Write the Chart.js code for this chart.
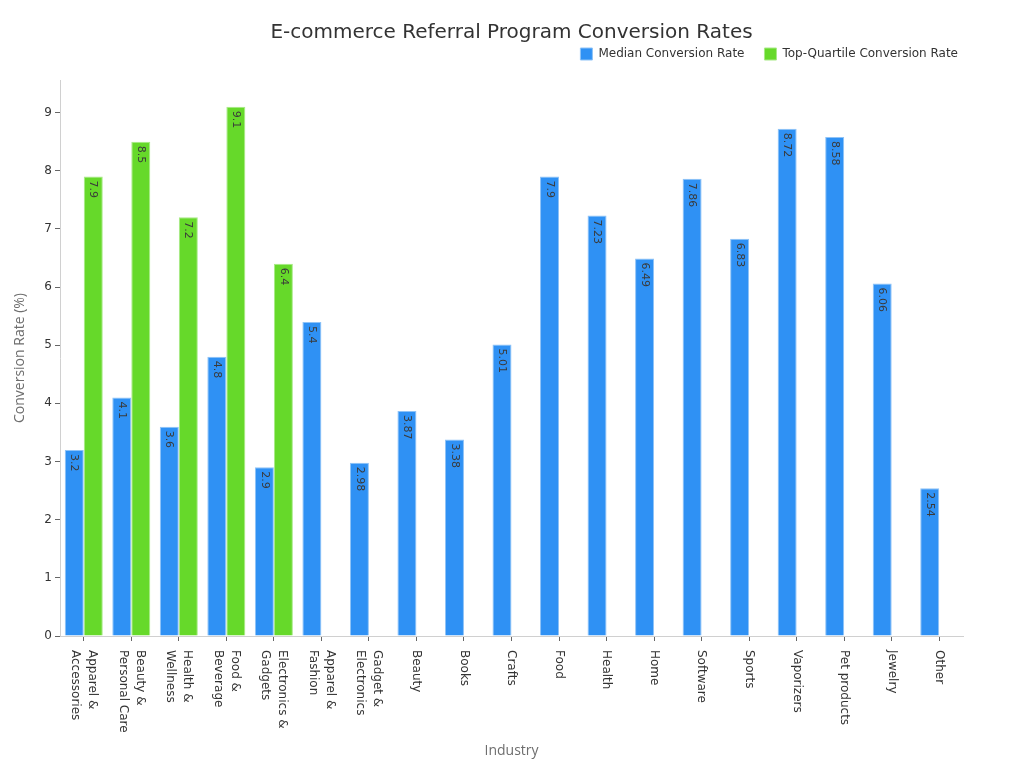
<!DOCTYPE html>
<html>
<head>
<meta charset="utf-8">
<script src="https://cdn.jsdelivr.net/npm/chart.js@4/dist/chart.umd.min.js"></script>
<style>
  html, body { margin: 0; padding: 0; background: #ffffff; }
  #wrap { width: 1024px; height: 768px; }
</style>
</head>
<body>
<div id="wrap"><canvas id="c" width="1024" height="768"></canvas></div>
<script>
const categories = [
  ["Apparel &", "Accessories"],
  ["Beauty &", "Personal Care"],
  ["Health &", "Wellness"],
  ["Food &", "Beverage"],
  ["Electronics &", "Gadgets"],
  ["Apparel &", "Fashion"],
  ["Gadget &", "Electronics"],
  ["Beauty"],
  ["Books"],
  ["Crafts"],
  ["Food"],
  ["Health"],
  ["Home"],
  ["Software"],
  ["Sports"],
  ["Vaporizers"],
  ["Pet products"],
  ["Jewelry"],
  ["Other"]
];
const medianRates = [3.2, 4.1, 3.6, 4.8, 2.9, 5.4, 2.98, 3.87, 3.38, 5.01, 7.9, 7.23, 6.49, 7.86, 6.83, 8.72, 8.58, 6.06, 2.54];
const topQuartileRates = [7.9, 8.5, 7.2, 9.1, 6.4, null, null, null, null, null, null, null, null, null, null, null, null, null, null];
const yTicks = [0, 1, 2, 3, 4, 5, 6, 7, 8, 9];
const seriesNames = ["Median Conversion Rate", "Top-Quartile Conversion Rate"];

const TICK_FONT = "DejaVu Sans";

const barLabels = {
  id: 'barLabels',
  afterDatasetsDraw(chart) {
    const ctx = chart.ctx;
    ctx.save();
    ctx.font = '11px "DejaVu Sans"';
    ctx.fillStyle = '#3a3a3a';
    ctx.textAlign = 'left';
    ctx.textBaseline = 'middle';
    chart.data.datasets.forEach((ds, di) => {
      const meta = chart.getDatasetMeta(di);
      meta.data.forEach((bar, i) => {
        const v = ds.data[i];
        if (v === null || v === undefined) return;
        ctx.save();
        ctx.translate(bar.x, bar.y + 4);
        ctx.rotate(Math.PI / 2);
        ctx.fillText(String(v), 0, 0);
        ctx.restore();
      });
    });
    ctx.restore();
  }
};

const xLabels = {
  id: 'xLabels',
  afterDraw(chart) {
    const ctx = chart.ctx;
    const xs = chart.scales.x;
    const lh = 17;
    ctx.save();
    ctx.font = '12px "DejaVu Sans"';
    ctx.fillStyle = '#333333';
    ctx.textAlign = 'left';
    ctx.textBaseline = 'middle';
    categories.forEach((lines, i) => {
      const x = xs.getPixelForValue(i);
      const y = xs.top + 14;
      ctx.save();
      ctx.translate(x, y);
      ctx.rotate(Math.PI / 2);
      const n = lines.length;
      lines.forEach((t, j) => {
        ctx.fillText(t, 0, (j - (n - 1) / 2) * lh);
      });
      ctx.restore();
    });
    ctx.restore();
  }
};

new Chart(document.getElementById('c'), {
  type: 'bar',
  data: {
    labels: categories.map(l => l.join(' ')),
    datasets: [
      {
        label: seriesNames[0],
        data: medianRates,
        backgroundColor: '#2f91f4',
        borderColor: '#8fc3f7',
        borderWidth: 1
      },
      {
        label: seriesNames[1],
        data: topQuartileRates,
        backgroundColor: '#66d92a',
        borderColor: '#a8ea86',
        borderWidth: 1
      }
    ]
  },
  options: {
    responsive: false,
    animation: false,
    layout: { padding: { top: 8, right: 46, bottom: 0, left: 0 } },
    datasets: { bar: { categoryPercentage: 0.8, barPercentage: 1.0 } },
    plugins: {
      title: {
        display: true,
        fullSize: false,
        text: 'E-commerce Referral Program Conversion Rates',
        color: '#333333',
        font: { family: 'DejaVu Sans', size: 20, weight: 'normal' },
        padding: { top: 13, bottom: -17 }
      },
      legend: {
        display: true,
        position: 'top',
        align: 'end',
        labels: {
          color: '#333333',
          font: { family: 'DejaVu Sans', size: 12 },
          boxWidth: 12,
          boxHeight: 12,
          padding: 20
        }
      },
      tooltip: { enabled: false }
    },
    scales: {
      x: {
        type: 'category',
        grid: { display: true, offset: false, drawOnChartArea: false, drawTicks: true, tickLength: 5, color: '#666666' },
        border: { display: true, color: '#d0d0d0' },
        ticks: { display: false },
        title: {
          display: true,
          text: 'Industry',
          color: '#6e6e6e',
          font: { family: 'Open Sans', size: 14 },
          padding: { top: 0, bottom: 9 }
        },
        afterFit(s) { s.height = 132; }
      },
      xTop: {
        type: 'linear',
        position: 'top',
        display: true,
        grid: { display: false },
        border: { display: false },
        ticks: { display: false },
        afterFit(s) { s.height = 10; }
      },
      y: {
        type: 'linear',
        min: 0,
        max: 9.56,
        afterBuildTicks(s) { s.ticks = yTicks.map(v => ({ value: v })); },
        grid: { display: true, drawOnChartArea: false, drawTicks: true, tickLength: 5, color: '#666666' },
        border: { display: true, color: '#d0d0d0' },
        ticks: {
          color: '#333333',
          font: { family: TICK_FONT, size: 12 },
          padding: 3
        },
        title: {
          display: true,
          text: 'Conversion Rate (%)',
          color: '#6e6e6e',
          font: { family: 'Open Sans', size: 14 },
          padding: { top: 12, bottom: 0 }
        },
        afterFit(s) { s.width = 60; }
      },
      yRight: {
        type: 'linear',
        position: 'right',
        display: true,
        grid: { display: false },
        border: { display: false },
        ticks: { display: false },
        afterFit(s) { s.width = 15; }
      }
    }
  },
  plugins: [barLabels, xLabels]
});
</script>
</body>
</html>
